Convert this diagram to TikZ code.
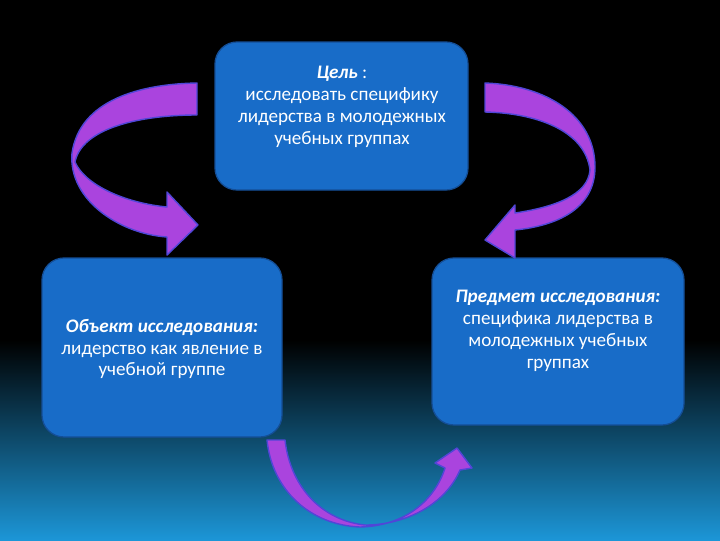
\documentclass[tikz,border=0pt]{standalone}
\usepackage{fontspec}
\setmainfont{Carlito}
\definecolor{bgblue}{RGB}{28,150,215}
\definecolor{bgmid}{RGB}{14,64,94}
\definecolor{boxfill}{RGB}{24,108,200}
\definecolor{boxline}{RGB}{20,78,150}
\definecolor{arrfill}{RGB}{170,68,222}
\definecolor{arrline}{RGB}{80,70,215}
\tikzset{
  box/.style={draw=boxline, line width=0.9pt, fill=boxfill, rounded corners=0.55cm},
  txt/.style={text=white, align=center, font=\fontsize{13.6}{15.6}\selectfont, inner sep=0pt},
  ribbon/.style={fill=arrfill, draw=arrline, line width=1pt, line join=round}
}
\begin{document}
\begin{tikzpicture}[x=0.025cm,y=-0.025cm]
\useasboundingbox (0,0) rectangle (720,540);
\fill[black] (0,0) rectangle (720,540);
\shade[top color=black, middle color=bgmid, bottom color=bgblue] (0,340) rectangle (720,540);

% boxes
\draw[box] (215,42) rectangle (468,190);
\node[coordinate] (top) at (341,116) {};
\draw[box] (42,258) rectangle (282,437);
\node[coordinate] (left) at (162,347) {};
\draw[box] (432,258) rectangle (684,425);
\node[coordinate] (right) at (558,341) {};

% texts
\node[txt] (ttop) at (342,107) {\textbf{\textit{Цель}} :\\исследовать специфику\\лидерства в молодежных\\учебных группах};
\node[txt] (tleft) at (162,349) {\textbf{\textit{Объект исследования:}}\\лидерство как явление в\\учебной группе};
\node[txt] (tright) at (558,331) {\textbf{\textit{Предмет исследования:}}\\специфика лидерства в\\молодежных учебных\\группах};

% left ribbon arrow
\draw[ribbon] (197,83) .. controls (140,84) and (80,100) .. (72,153)
  .. controls (68,200) and (120,234) .. (167,237)
  -- (167,255) -- (198,225) -- (167,192) -- (167,207)
  .. controls (125,203) and (85,185) .. (75,162)
  .. controls (82,128) and (140,115) .. (197,115) -- cycle;

% right ribbon arrow
\draw[ribbon] (485,83) .. controls (545,85) and (595,115) .. (595,167)
  .. controls (595,210) and (555,226) .. (515,230)
  -- (515,258) -- (485,240) -- (515,205) -- (515,213)
  .. controls (555,207) and (588,195) .. (590,170)
  .. controls (585,130) and (535,113) .. (485,112) -- cycle;

% bottom ribbon arrow
\draw[ribbon] (267,440) .. controls (272,490) and (310,525) .. (360,527)
  .. controls (405,526) and (435,500) .. (445,468)
  -- (435,463) -- (457,448) -- (472,468) -- (460,470)
  .. controls (445,505) and (405,525) .. (365,525)
  .. controls (320,520) and (290,485) .. (285,440) -- cycle;
\end{tikzpicture}
\end{document}
